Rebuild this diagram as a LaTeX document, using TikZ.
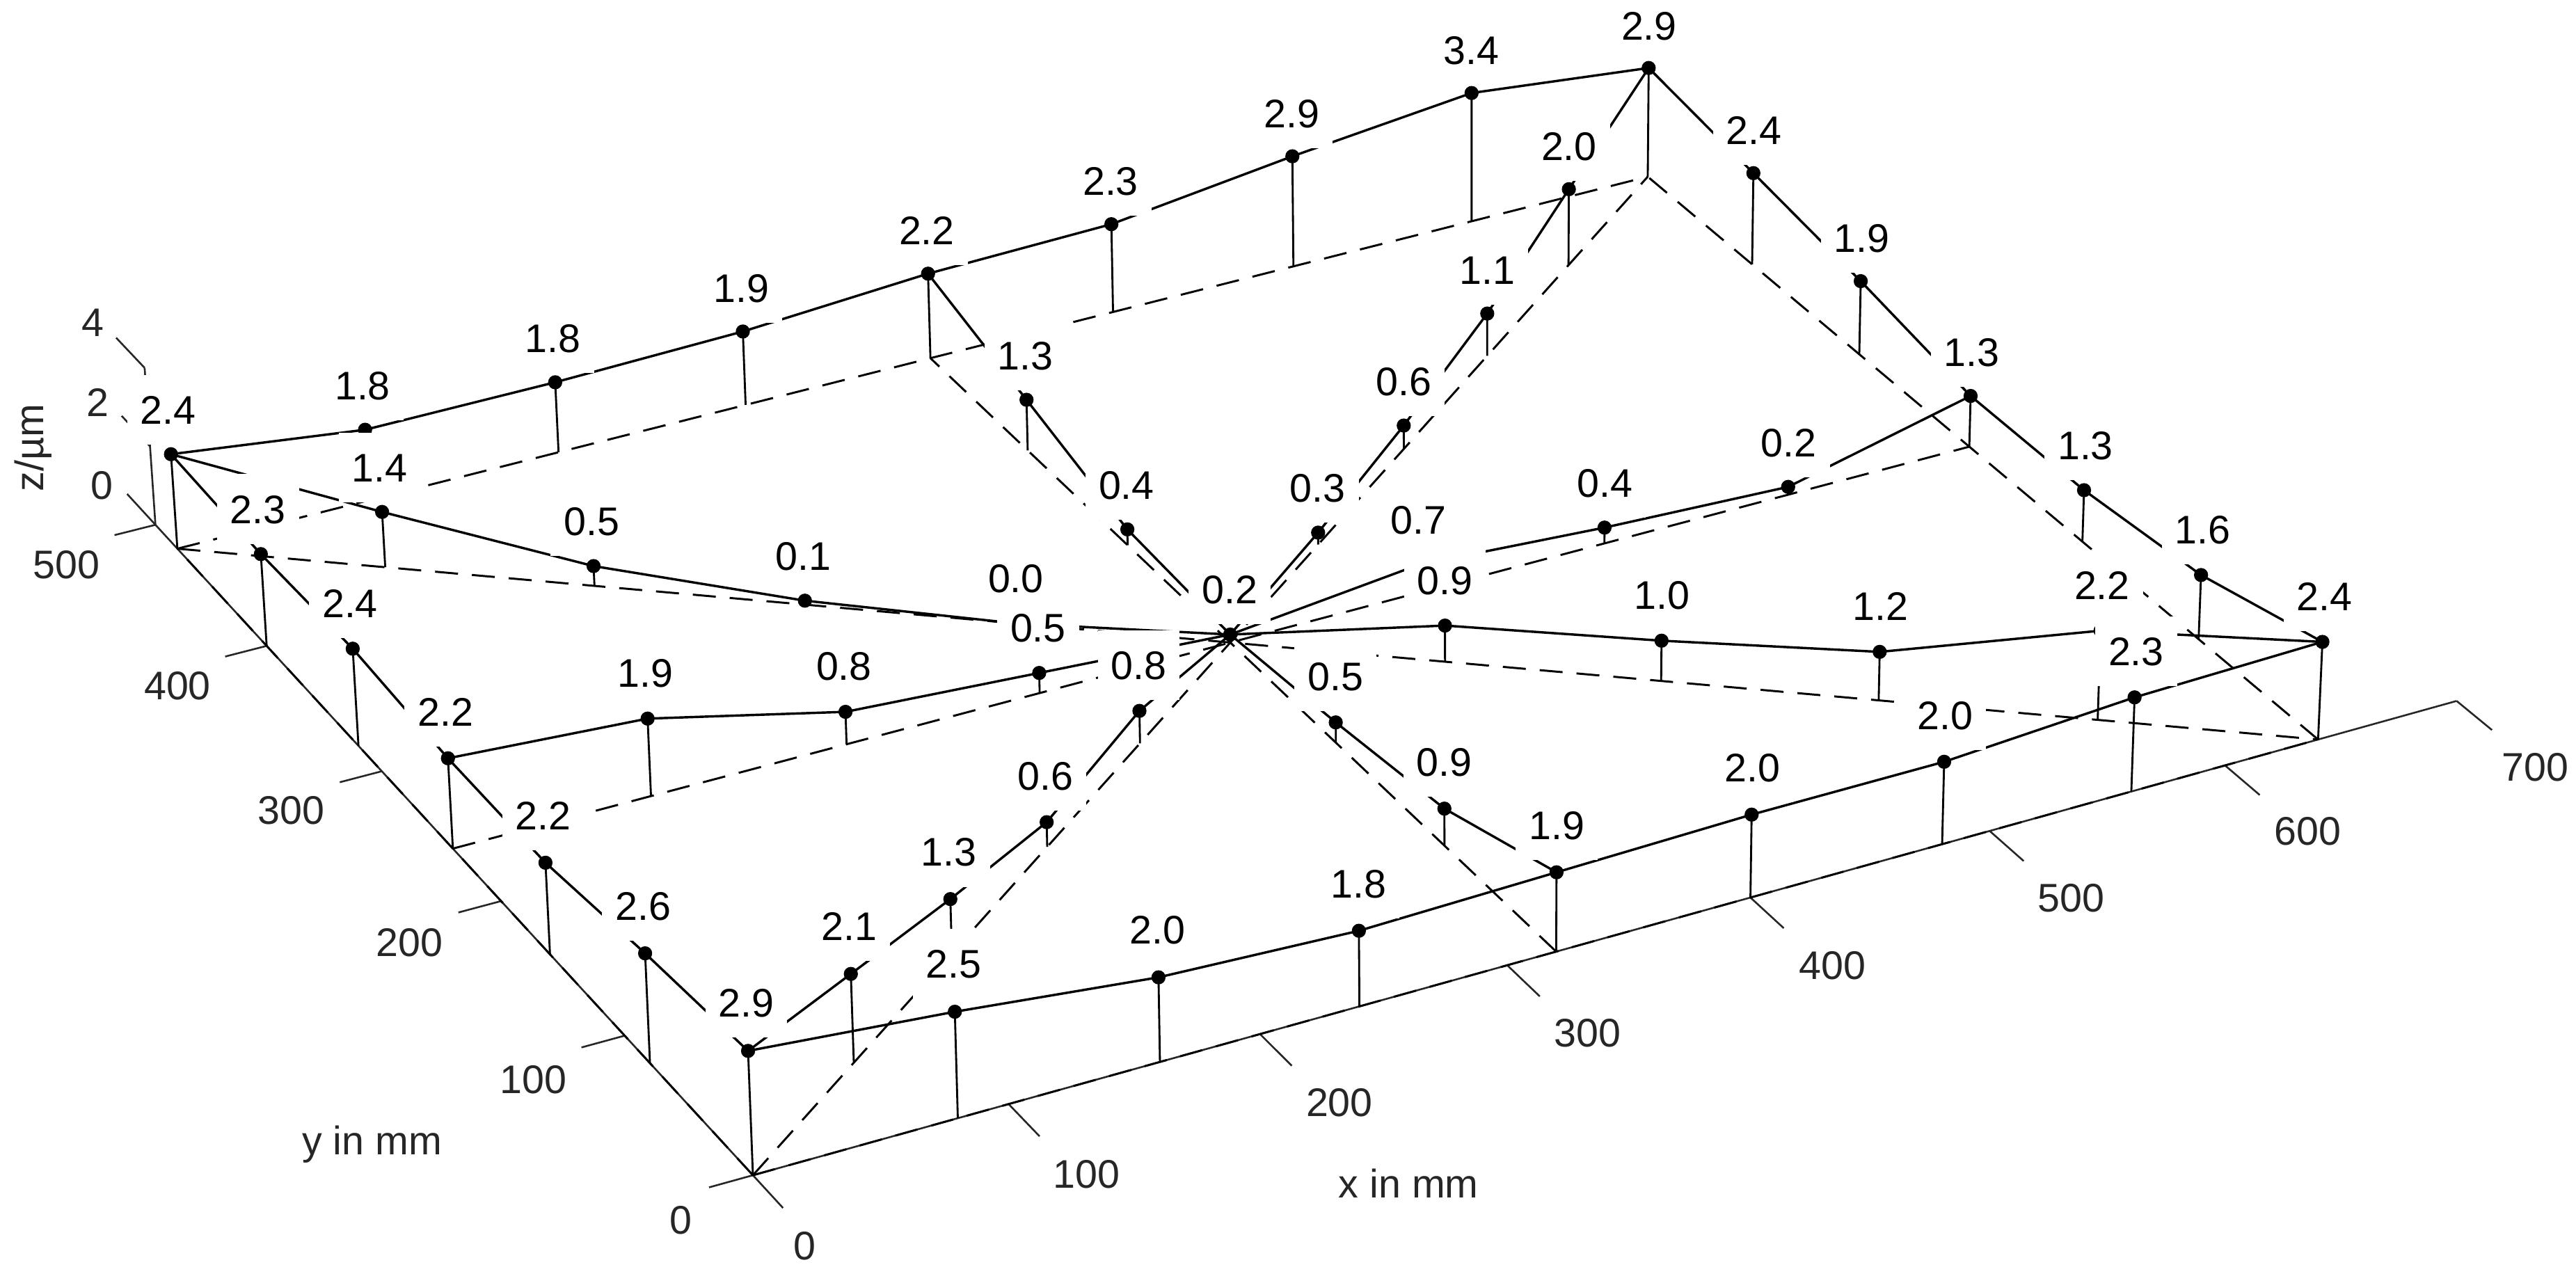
\documentclass[tikz,border=0pt]{standalone}
\usepackage{fontspec}
\setmainfont{Liberation Sans}
\definecolor{axgray}{gray}{0.15}
% perspective projection of plate coordinates (x,y in mm, z in um) to picture points
\newcommand\projpt[4]{%
  \pgfmathsetmacro\pX{(#2)/640}%
  \pgfmathsetmacro\pY{(#3)/480}%
  \pgfmathsetmacro\pW{0.05429*\pX+0.08922*\pY+1}%
  \pgfmathsetmacro\pU{(1029.3*\pX-340.7*\pY+458.3)/\pW}%
  \pgfmathsetmacro\pV{(-240.8*\pX-351.6*\pY+715.4)/\pW}%
  \pgfmathsetmacro\pD{26.1*(#4)/\pW}%
  \pgfmathsetmacro\pA{\pD/(12000-\pV)}%
  \coordinate (#1) at ({\pU+(\pU-900)*\pA},{\pV-\pD});%
}
\def\ptlist{f0/0/0/2.9, f1/80/0/2.5, f2/160/0/2.0, f3/240/0/1.8, f4/320/0/1.9, f5/400/0/2.0, f6/480/0/2.0, f7/560/0/2.3, f8/640/0/2.4,
b0/0/480/2.4, b1/80/480/1.8, b2/160/480/1.8, b3/240/480/1.9, b4/320/480/2.2, b5/400/480/2.3, b6/480/480/2.9, b7/560/480/3.4, b8/640/480/2.9,
l1/0/80/2.6, l2/0/160/2.2, l3/0/240/2.2, l4/0/320/2.4, l5/0/400/2.3,
r1/640/80/1.6, r2/640/160/1.3, r3/640/240/1.3, r4/640/320/1.9, r5/640/400/2.4,
c1/80/240/1.9, c2/160/240/0.8, c3/240/240/0.5, c4/320/240/0.2, c5/400/240/0.7, c6/480/240/0.4, c7/560/240/0.2,
y1/320/80/0.9, y2/320/160/0.5, y4/320/320/0.4, y5/320/400/1.3,
p1/64/48/2.1, p2/128/96/1.3, p3/192/144/0.6, p4/256/192/0.8, p6/384/288/0.3, p7/448/336/0.6, p8/512/384/1.1, p9/576/432/2.0,
q1/64/432/1.4, q2/128/384/0.5, q3/192/336/0.1, q4/256/288/0.0, q6/384/192/0.9, q7/448/144/1.0, q8/512/96/1.2, q9/576/48/2.2}
\begin{document}
\begin{tikzpicture}[x=1pt,y=-1pt,
  dataln/.style={line width=1.45pt,black,line join=round},
  baseln/.style={line width=1.25pt,black,dash pattern=on 14pt off 8.5pt},
  stemln/.style={line width=1.2pt,black},
  axisln/.style={line width=1.1pt,axgray},
  lab/.style={fill=white,inner xsep=8pt,inner ysep=12.5pt,text height=17.4pt,text depth=0pt,font=\fontsize{24.3}{29}\selectfont},
  ticklab/.style={text=axgray,inner sep=0pt,text height=17.4pt,text depth=0pt,font=\fontsize{24.3}{29}\selectfont}]
\useasboundingbox (0,0) rectangle (1568,775.5);
% ---- points
\foreach \n/\px/\py/\pz in \ptlist {%
  \projpt{\n}{\px}{\py}{\pz}%
  \projpt{b\n}{\px}{\py}{0}%
  \projpt{t\n}{\px}{\py}{\pz+1.13}%
}
% ---- axes
\projpt{O}{0}{0}{0}
\projpt{X7}{700}{0}{0}
\projpt{Y5}{0}{500}{0}
\projpt{Z4}{0}{500}{4}
\draw[axisln] (X7) -- (O) -- (Y5) -- (Z4);
\foreach \t in {0,100,...,700} {\projpt{xa\t}{\t}{0}{0}\projpt{xb\t}{\t}{-23}{0}\draw[axisln] (xa\t) -- (xb\t);}
\foreach \t in {0,100,...,500} {\projpt{ya\t}{0}{\t}{0}\projpt{yb\t}{-17}{\t}{0}\draw[axisln] (ya\t) -- (yb\t);}
\foreach \t in {0,2,4} {\projpt{za\t}{0}{500}{\t}\projpt{zb\t}{0}{526}{\t}\draw[axisln] (za\t) -- (zb\t);}
% ---- base lines (z = 0)
\draw[baseln] (bf0)--(bf1)--(bf2)--(bf3)--(bf4)--(bf5)--(bf6)--(bf7)--(bf8);
\draw[baseln] (bb0)--(bb1)--(bb2)--(bb3)--(bb4)--(bb5)--(bb6)--(bb7)--(bb8);
\draw[baseln] (bf0)--(bl1)--(bl2)--(bl3)--(bl4)--(bl5)--(bb0);
\draw[baseln] (bf8)--(br1)--(br2)--(br3)--(br4)--(br5)--(bb8);
\draw[baseln] (bl3)--(bc1)--(bc2)--(bc3)--(bc4)--(bc5)--(bc6)--(bc7)--(br3);
\draw[baseln] (bf4)--(by1)--(by2)--(bc4)--(by4)--(by5)--(bb4);
\draw[baseln] (bf0)--(bp1)--(bp2)--(bp3)--(bp4)--(bc4)--(bp6)--(bp7)--(bp8)--(bp9)--(bb8);
\draw[baseln] (bb0)--(bq1)--(bq2)--(bq3)--(bq4)--(bc4)--(bq6)--(bq7)--(bq8)--(bq9)--(bf8);
% ---- stems
\foreach \n/\px/\py/\pz in \ptlist {\draw[stemln] (b\n) -- (\n);}
% ---- measured profile lines
\draw[dataln] (f0)--(f1)--(f2)--(f3)--(f4)--(f5)--(f6)--(f7)--(f8);
\draw[dataln] (b0)--(b1)--(b2)--(b3)--(b4)--(b5)--(b6)--(b7)--(b8);
\draw[dataln] (f0)--(l1)--(l2)--(l3)--(l4)--(l5)--(b0);
\draw[dataln] (f8)--(r1)--(r2)--(r3)--(r4)--(r5)--(b8);
\draw[dataln] (l3)--(c1)--(c2)--(c3)--(c4)--(c5)--(c6)--(c7)--(r3);
\draw[dataln] (f4)--(y1)--(y2)--(c4)--(y4)--(y5)--(b4);
\draw[dataln] (f0)--(p1)--(p2)--(p3)--(p4)--(c4)--(p6)--(p7)--(p8)--(p9)--(b8);
\draw[dataln] (b0)--(q1)--(q2)--(q3)--(q4)--(c4)--(q6)--(q7)--(q8)--(q9)--(f8);
% ---- dots
\foreach \n/\px/\py/\pz in \ptlist {\fill[black] (\n) circle (4.3pt);}
% ---- value labels
\foreach \n/\px/\py/\pz in \ptlist {\node[lab] (lab\n) at (t\n) {\pz};}
% ---- tick labels
\node[ticklab] (xl0) at (489.9,758) {0};
\node[ticklab] (xl1) at (661.4,714.4) {100};
\node[ticklab] (xl2) at (815.3,670.8) {200};
\node[ticklab] (xl3) at (966.4,628.5) {300};
\node[ticklab] (xl4) at (1115.3,587.5) {400};
\node[ticklab] (xl5) at (1260.7,546.3) {500};
\node[ticklab] (xl6) at (1404.6,505.9) {600};
\node[ticklab] (xl7) at (1543.3,466.9) {700};
\node[ticklab] (yl0) at (414.4,742.3) {0};
\node[ticklab] (yl1) at (324.8,657) {100};
\node[ticklab] (yl2) at (249.3,573.5) {200};
\node[ticklab] (yl3) at (177.3,493.2) {300};
\node[ticklab] (yl4) at (108,417.2) {400};
\node[ticklab] (yl5) at (40.5,343.4) {500};
\node[ticklab] (zl0) at (62,295) {0};
\node[ticklab] (zl2) at (59.4,245) {2};
\node[ticklab] (zl4) at (56.7,196) {4};
\node[ticklab] (xname) at (857.4,720.4) {x in mm};
\node[ticklab] (yname) at (226.5,694) {y in mm};
\node[ticklab,rotate=90] (zname) at (17.6,272.5) {z/µm};
\end{tikzpicture}
\end{document}
